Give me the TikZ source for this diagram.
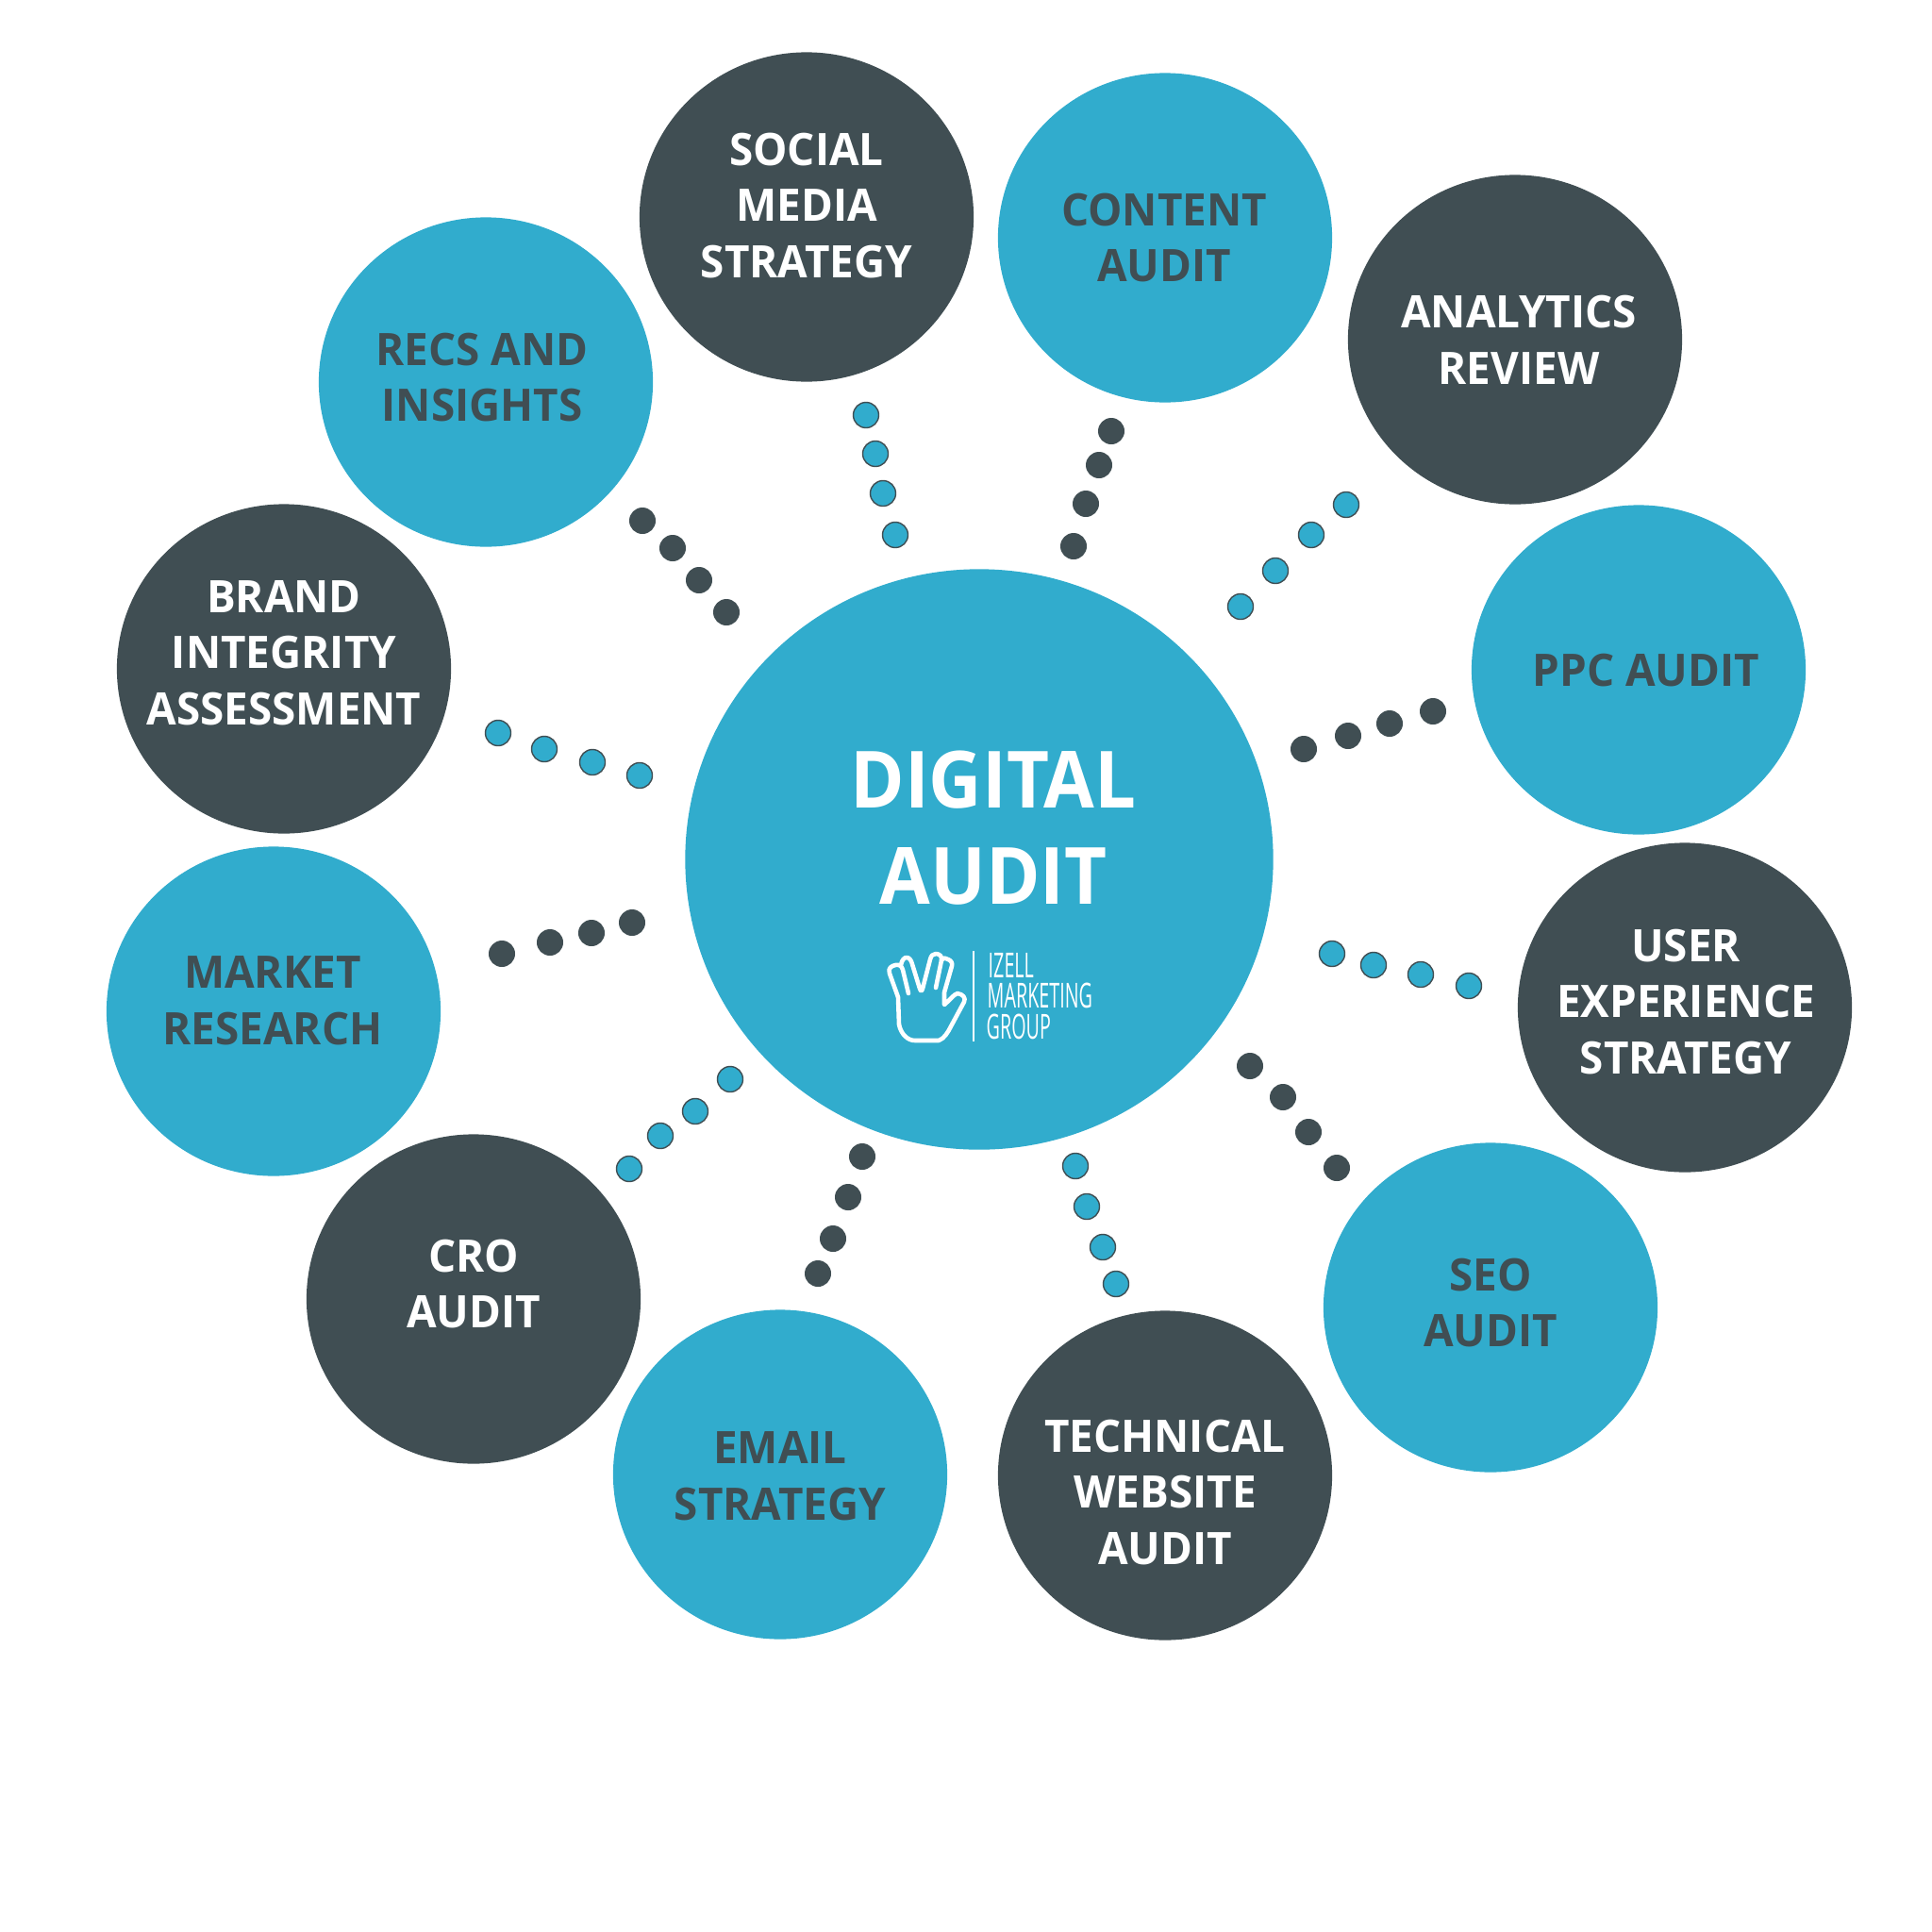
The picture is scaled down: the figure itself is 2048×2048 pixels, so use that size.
\documentclass[tikz,border=0pt]{standalone}
\usepackage{fontspec}
\setmainfont{Open Sans}
\newfontfamily\logofont[FakeStretch=0.54]{Open Sans}
\newfontfamily\labelfont[FakeStretch=0.965]{Open Sans}
\newfontfamily\titlefont[FakeStretch=0.93]{Open Sans}
\usetikzlibrary{shapes.geometric}
\definecolor{auditblue}{HTML}{31ACCD}
\definecolor{auditdark}{HTML}{404E53}
\tikzset{
  bubble/.style={ellipse, minimum width=3.54cm, minimum height=3.49cm, inner sep=0pt},
  bluebubble/.style={bubble, fill=auditblue},
  darkbubble/.style={bubble, fill=auditdark},
  bubbletext/.style={align=center, font=\fontsize{13.5}{17}\labelfont\bfseries, inner sep=0pt},
  whitetext/.style={bubbletext, text=white},
  darktext/.style={bubbletext, text=auditdark},
  darkdot/.style={circle, fill=auditdark, minimum size=0.28cm, inner sep=0pt},
  bluedot/.style={circle, fill=auditblue, draw=auditdark, line width=0.4pt, minimum size=0.27cm, inner sep=0pt},
  logotext/.style={anchor=base west, inner sep=0pt, text=white, font=\fontsize{10.4}{12}\logofont}
}
\begin{document}
\begin{tikzpicture}[x=0.01cm, y=-0.01cm]
\useasboundingbox (0,0) rectangle (2048,2048);
% centre
\node[ellipse, fill=auditblue, minimum width=6.23cm, minimum height=6.15cm, inner sep=0pt] (audit) at (1038,911) {};
\node[align=center, text=white, inner sep=0pt, font=\fontsize{23.8}{29}\titlefont\bfseries] (audittext) at (1053,878) {DIGITAL\\AUDIT};
% outer ring
\node[darkbubble] (social) at (855,230) {};
\node[bluebubble] (content) at (1235,252) {};
\node[darkbubble] (analytics) at (1606,360) {};
\node[bluebubble] (ppc) at (1737,710) {};
\node[darkbubble] (ux) at (1786,1068) {};
\node[bluebubble] (seo) at (1580,1386) {};
\node[darkbubble] (technical) at (1235,1564) {};
\node[bluebubble] (email) at (827,1563) {};
\node[darkbubble] (cro) at (502,1377) {};
\node[bluebubble] (market) at (290,1072) {};
\node[darkbubble] (brand) at (301,709) {};
\node[bluebubble] (recs) at (515,405) {};
% labels
\node[whitetext] (socialtext) at (855,218) {SOCIAL\\MEDIA\\STRATEGY};
\node[darktext] (contenttext) at (1234,252) {CONTENT\\AUDIT};
\node[whitetext] (analyticstext) at (1610,360) {ANALYTICS\\REVIEW};
\node[darktext] (ppctext) at (1745,711) {PPC AUDIT};
\node[whitetext] (uxtext) at (1787,1062) {USER\\EXPERIENCE\\STRATEGY};
\node[darktext] (seotext) at (1580,1381) {SEO\\AUDIT};
\node[whitetext] (technicaltext) at (1235,1582) {TECHNICAL\\WEBSITE\\AUDIT};
\node[darktext] (emailtext) at (827,1565) {EMAIL\\STRATEGY};
\node[whitetext] (crotext) at (502,1361) {CRO\\AUDIT};
\node[darktext] (markettext) at (289,1061) {MARKET\\RESEARCH};
\node[whitetext] (brandtext) at (301,692) {BRAND\\INTEGRITY\\ASSESSMENT};
\node[darktext] (recstext) at (511,400) {RECS AND\\INSIGHTS};
% dots
\foreach \px/\py [count=\i] in {918/440,928/481,936/523,949/567}
  \node[bluedot] (socialdot\i) at (\px,\py) {};
\foreach \px/\py [count=\i] in {1178/457,1165/493,1151/534,1138/579}
  \node[darkdot] (contentdot\i) at (\px,\py) {};
\foreach \px/\py [count=\i] in {1427/535,1390/567,1352/605,1315/643}
  \node[bluedot] (analyticsdot\i) at (\px,\py) {};
\foreach \px/\py [count=\i] in {1519/754,1473/767,1429/780,1382/794}
  \node[darkdot] (ppcdot\i) at (\px,\py) {};
\foreach \px/\py [count=\i] in {1412/1011,1456/1023,1506/1033,1557/1045}
  \node[bluedot] (uxdot\i) at (\px,\py) {};
\foreach \px/\py [count=\i] in {1325/1130,1360/1163,1387/1200,1417/1238}
  \node[darkdot] (seodot\i) at (\px,\py) {};
\foreach \px/\py [count=\i] in {1140/1236,1152/1279,1169/1322,1183/1361}
  \node[bluedot] (technicaldot\i) at (\px,\py) {};
\foreach \px/\py [count=\i] in {914/1226,899/1269,883/1313,867/1350}
  \node[darkdot] (emaildot\i) at (\px,\py) {};
\foreach \px/\py [count=\i] in {774/1144,737/1178,700/1204,667/1239}
  \node[bluedot] (crodot\i) at (\px,\py) {};
\foreach \px/\py [count=\i] in {670/978,627/989,583/999,532/1011}
  \node[darkdot] (marketdot\i) at (\px,\py) {};
\foreach \px/\py [count=\i] in {528/777,577/794,628/808,678/822}
  \node[bluedot] (branddot\i) at (\px,\py) {};
\foreach \px/\py [count=\i] in {681/552,713/581,741/615,770/649}
  \node[darkdot] (recsdot\i) at (\px,\py) {};
% logo
\draw[white, line width=1.3pt, line join=round, line cap=round]
  (963,1053) -- (957,1028) .. controls (956,1024) and (953,1022) .. (949,1023)
  .. controls (945,1024) and (941,1026) .. (943,1032) -- (952,1057) -- (953,1086)
  .. controls (955,1096) and (962,1103) .. (970,1103) -- (995,1103)
  .. controls (1001,1101) and (1005,1094) .. (1008,1088) -- (1022,1062)
  .. controls (1024,1058) and (1021,1054) .. (1015,1053)
  .. controls (1011,1054) and (1006,1061) .. (1001,1065) -- (1001,1052) -- (1009,1024)
  .. controls (1010,1021) and (1008,1018) .. (1005,1017)
  .. controls (1003,1015) and (1000,1015) .. (998,1018);
\draw[white, line width=1.3pt, line join=round, line cap=round]
  (955,1023) .. controls (956,1017) and (959,1015) .. (961,1015)
  .. controls (964,1015) and (966,1018) .. (967,1022) -- (975,1048)
  .. controls (976,1051) and (977,1051) .. (978,1048) -- (986,1017)
  .. controls (987,1013) and (989,1011) .. (992,1011)
  .. controls (996,1011) and (999,1014) .. (998,1018) -- (992,1047);
\draw[white, line width=0.5pt] (1032,1008) -- (1032,1104);
\node[logotext] (izell) at (1047,1036) {IZELL};
\node[logotext] (marketing) at (1046,1068) {MARKETING};
\node[logotext] (group) at (1045,1101) {GROUP};
\end{tikzpicture}
\end{document}
